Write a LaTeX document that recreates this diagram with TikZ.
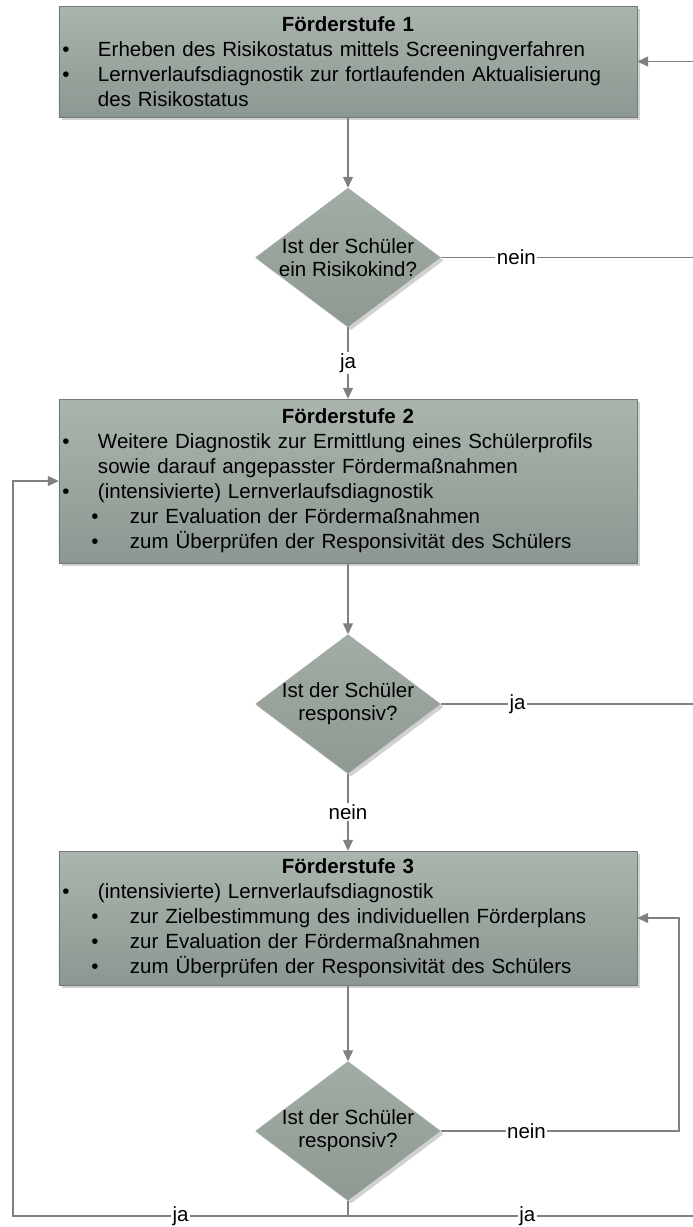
\documentclass[tikz,border=0pt]{standalone}
\usepackage{fontspec}
\setmainfont{Liberation Sans}
\usetikzlibrary{shapes.geometric,arrows.meta,shadows}
\definecolor{stufeoben}{HTML}{AAB5AE}
\definecolor{stufeunten}{HTML}{8C9791}
\definecolor{rauteoben}{HTML}{A2ADA6}
\definecolor{rauteunten}{HTML}{8E9992}
\definecolor{rand}{HTML}{737B76}
\definecolor{linie}{HTML}{808080}
\newcommand{\pkt}[1]{\noindent\hspace*{3.5bp}\makebox[35.5bp][l]{\textbullet}#1\par}
\newcommand{\upkt}[1]{\noindent\hspace*{32.5bp}\makebox[38.5bp][l]{\textbullet}#1\par}
\newcommand{\titel}[1]{\noindent\makebox[\linewidth]{\textbf{#1}}\par}

\begin{document}
\begin{tikzpicture}[x=1bp,y=-1bp,
    schrift/.style={font=\fontsize{20.6}{25.1}\selectfont},
    rautentext/.style={font=\fontsize{20.6}{23.1}\selectfont,align=center},
    schatten/.style={drop shadow={shadow xshift=3bp,shadow yshift=-3bp,fill=black!18,opacity=1}},
    stufe/.style={schrift,schatten,draw=rand,top color=stufeoben,bottom color=stufeunten,
        minimum width=578bp,text width=578bp,inner sep=0pt,align=left},
    frage/.style={diamond,schatten,draw=rand!60,top color=rauteoben,bottom color=rauteunten,
        minimum width=185bp,minimum height=139bp,inner sep=0pt},
    verbindung/.style={draw=linie,line width=1.2bp},
    pfeil/.style={verbindung,-{Triangle[length=11bp,width=10bp]}},
    antwort/.style={schrift,fill=white,inner sep=1.5bp}]
    \useasboundingbox (0,0) rectangle (693,1227);
    \node[stufe,minimum height=111bp] (fs1) at (348,61.5)
        {\titel{Förderstufe 1}%
         \pkt{Erheben des Risikostatus mittels Screeningverfahren}%
         \pkt{Lernverlaufsdiagnostik zur fortlaufenden Aktualisierung}%
         \noindent\hspace*{39bp}des Risikostatus};
    \node[frage,label={[rautentext]center:Ist der Schüler\\ein Risikokind?}] (d1) at (348,257.5) {};
    \node[stufe,minimum height=164bp] (fs2) at (348,481)
        {\titel{Förderstufe 2}%
         \pkt{Weitere Diagnostik zur Ermittlung eines Schülerprofils}%
         \noindent\hspace*{39bp}sowie darauf angepasster Fördermaßnahmen\par
         \pkt{(intensivierte) Lernverlaufsdiagnostik}%
         \upkt{zur Evaluation der Fördermaßnahmen}%
         \upkt{zum Überprüfen der Responsivität des Schülers}};
    \node[frage,label={[rautentext]center:Ist der Schüler\\responsiv?}] (d2) at (348,704) {};
    \node[stufe,minimum height=134bp] (fs3) at (348,918)
        {\titel{Förderstufe 3}%
         \pkt{(intensivierte) Lernverlaufsdiagnostik}%
         \upkt{zur Zielbestimmung des individuellen Förderplans}%
         \upkt{zur Evaluation der Fördermaßnahmen}%
         \upkt{zum Überprüfen der Responsivität des Schülers}};
    \node[frage,label={[rautentext]center:Ist der Schüler\\responsiv?}] (d3) at (348,1131) {};
    \coordinate (r0) at (693,61.5);
    \coordinate (r1) at (693,257.5);
    \coordinate (r2) at (693,704);
    \coordinate (k3) at (679,1131);
    \coordinate (u) at (348,1216);
    \coordinate (ul) at (13,1216);
    \coordinate (ur) at (693,1216);
    \draw[pfeil] (r0) -- (fs1);
    \draw[pfeil] (fs1) -- (d1);
    \draw[verbindung] (d1) -- node[antwort,pos=0.3] {nein} (r1);
    \draw[pfeil] (d1) -- node[antwort] {ja} (fs2);
    \draw[pfeil] (fs2) -- (d2);
    \draw[verbindung] (d2) -- node[antwort,pos=0.305] {ja} (r2);
    \draw[pfeil] (d2) -- node[antwort] {nein} (fs3);
    \draw[pfeil] (fs3) -- (d3);
    \draw[pfeil] (d3) -- node[antwort,pos=0.36] {nein} (k3) |- (fs3);
    \draw[pfeil] (d3) -- (u) -- node[antwort,pos=0.5] {ja} (ul) |- (fs2);
    \draw[verbindung] (u) -- node[antwort,pos=0.52] {ja} (ur);
\end{tikzpicture}
\end{document}
